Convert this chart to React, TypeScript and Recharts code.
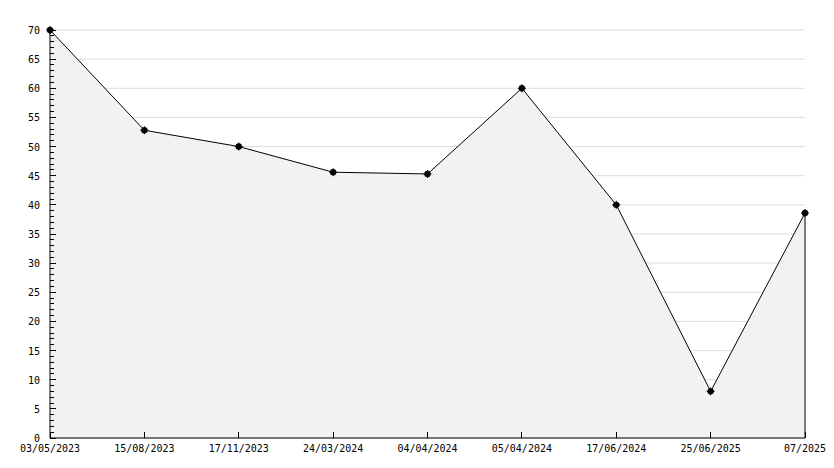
import { Area, AreaChart, CartesianGrid, ReferenceLine, XAxis, YAxis } from 'recharts';

const dates = [
  '03/05/2023',
  '15/08/2023',
  '17/11/2023',
  '24/03/2024',
  '04/04/2024',
  '05/04/2024',
  '17/06/2024',
  '25/06/2025',
  '07/2025',
];
const values = [70, 52.8, 50, 45.6, 45.3, 60, 40, 8, 38.6];
const majorTicks = [0, 5, 10, 15, 20, 25, 30, 35, 40, 45, 50, 55, 60, 65, 70];
const allTicks = Array.from({ length: 71 }, (_, i) => i);

const data = dates.map((date, i) => ({ date, value: values[i] }));

const font = '"DejaVu Sans Mono", monospace';

function YTick(props: any) {
  const { x, y, payload } = props;
  const v = payload.value as number;
  const major = v % 5 === 0;
  return (
    <g>
      <line x1={50} x2={major ? 56 : 54} y1={y} y2={y} stroke="#000" shapeRendering="crispEdges" />
      {major && (
        <text x={x - 2} y={y} dy={4} textAnchor="end" fontSize={10} fontFamily={font} fill="#000">
          {v}
        </text>
      )}
    </g>
  );
}

function XTick(props: any) {
  const { x, payload } = props;
  return (
    <g>
      <line x1={x} x2={x} y1={438} y2={432} stroke="#000" shapeRendering="crispEdges" />
      <text x={x} y={452} textAnchor="middle" fontSize={10} fontFamily={font} fill="#000">
        {payload.value}
      </text>
    </g>
  );
}

// small black star marker
function StarDot(props: any) {
  const { cx, cy } = props;
  if (cx == null || cy == null) return null;
  return (
    <g>
      <circle cx={cx} cy={cy} r={3.2} fill="#000" />
      <line x1={cx - 4} x2={cx + 4} y1={cy} y2={cy} stroke="#000" />
      <line x1={cx} x2={cx} y1={cy - 4} y2={cy + 4} stroke="#000" />
    </g>
  );
}

// grid lines only at the labelled (every 5) ticks
function gridRows({ offset }: any) {
  const max = majorTicks[majorTicks.length - 1];
  return majorTicks.map((t) => offset.top + offset.height * (1 - t / max));
}

export default function App() {
  return (
    <div style={{ position: 'absolute', left: 0, top: 0, width: 834, height: 468, background: '#fff' }}>
      <AreaChart width={834} height={468} data={data} margin={{ top: 30, right: 29, bottom: 0, left: 0 }}>
        <CartesianGrid vertical={false} stroke="#dddddd" horizontalCoordinatesGenerator={gridRows} />
        <XAxis
          dataKey="date"
          height={30}
          interval={0}
          tickLine={false}
          axisLine={{ stroke: '#000' }}
          tick={<XTick />}
        />
        <YAxis
          domain={[0, 70]}
          ticks={allTicks}
          interval={0}
          width={50}
          tickLine={false}
          axisLine={{ stroke: '#000' }}
          tick={<YTick />}
        />
        <Area
          type="linear"
          dataKey="value"
          stroke="#000"
          strokeWidth={1}
          fill="#f2f2f2"
          fillOpacity={1}
          dot={<StarDot />}
          activeDot={false}
          isAnimationActive={false}
        />
        <ReferenceLine
          segment={[
            { x: dates[dates.length - 1], y: 0 },
            { x: dates[dates.length - 1], y: values[values.length - 1] },
          ]}
          stroke="#000"
        />
      </AreaChart>
    </div>
  );
}
